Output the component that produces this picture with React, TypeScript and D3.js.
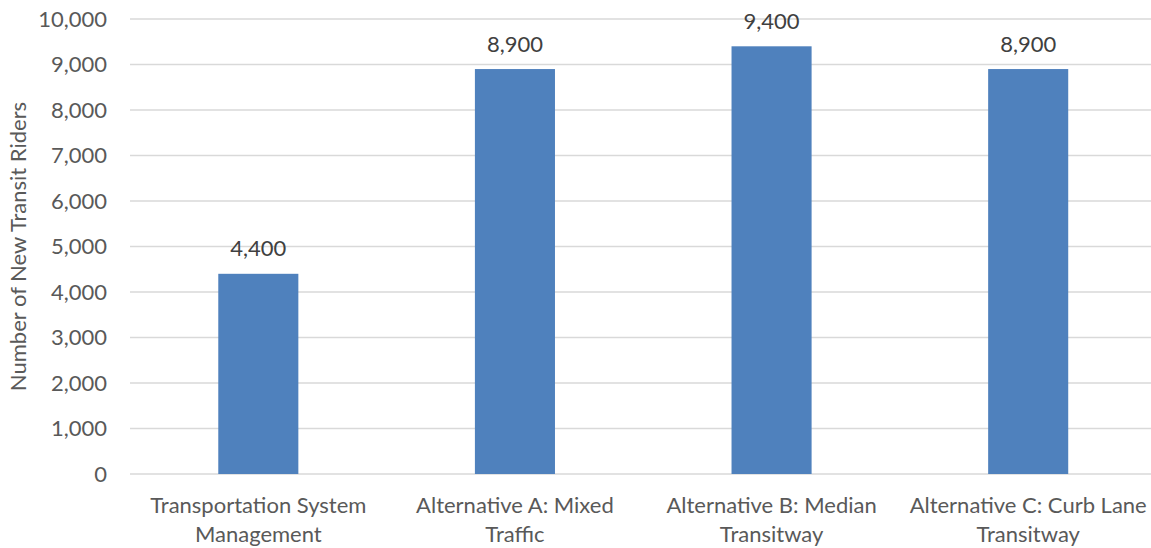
import React from "react";
import * as d3 from "d3";

const categories = [
  ["Transportation System", "Management"],
  ["Alternative A: Mixed", "Traffic"],
  ["Alternative B: Median", "Transitway"],
  ["Alternative C: Curb Lane", "Transitway"],
];
const values = [4400, 8900, 9400, 8900];
const yTicks = [0, 1000, 2000, 3000, 4000, 5000, 6000, 7000, 8000, 9000, 10000];
const yTitle = "Number of New Transit Riders";

const W = 1151;
const H = 548;
const FONT = "Lato, 'Open Sans', sans-serif";

export default function App() {
  const left = 130;
  const right = 1156.5;
  const top = 19;
  const bottom = 474;
  const x = d3
    .scaleBand<number>()
    .domain(categories.map((_, i) => i))
    .range([left, right])
    .paddingInner(0.688)
    .paddingOuter(0.344);
  const y = d3.scaleLinear().domain([0, 10000]).range([bottom, top]);
  const fmt = d3.format(",");
  return (
    <svg
      width={W}
      height={H}
      style={{ position: "absolute", left: 0, top: 0, background: "#fff" }}
      fontFamily={FONT}
    >
      {yTicks.map((t) => (
        <g key={t}>
          <line x1={left} x2={right} y1={y(t)} y2={y(t)} stroke="#d9d9d9" strokeWidth={1.3} />
          <text x={107} y={y(t)} dy="0.36em" textAnchor="end" fontSize={22} fill="#595959">
            {fmt(t)}
          </text>
        </g>
      ))}
      {values.map((v, i) => (
        <g key={i}>
          <rect
            x={x(i)}
            y={y(v)}
            width={x.bandwidth()}
            height={y(0) - y(v)}
            fill="#4f81bd"
          />
          <text
            x={(x(i) as number) + x.bandwidth() / 2}
            y={y(v) - 17.5}
            textAnchor="middle"
            fontSize={22}
            fill="#404040"
          >
            {fmt(v)}
          </text>
          {categories[i].map((line, j) => (
            <text
              key={j}
              x={(x(i) as number) + x.bandwidth() / 2}
              y={513 + j * 28.5}
              textAnchor="middle"
              fontSize={22}
              fill="#595959"
            >
              {line}
            </text>
          ))}
        </g>
      ))}
      <text
        transform={`translate(26, ${(top + bottom) / 2}) rotate(-90)`}
        textAnchor="middle"
        fontSize={22}
        fill="#595959"
      >
        {yTitle}
      </text>
    </svg>
  );
}
